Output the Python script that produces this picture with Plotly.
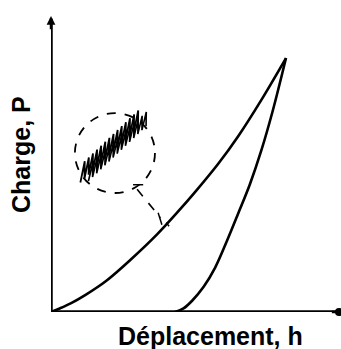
import numpy as np
import plotly.graph_objects as go

# Load–displacement curve of an indentation test (normalised units)
h_load = [0.0, 0.03, 0.07, 0.12, 0.19, 0.28, 0.37, 0.44, 0.50, 0.58, 0.65, 0.73, 0.816]
p_load = [0.0, 0.012, 0.030, 0.058, 0.104, 0.180, 0.264, 0.338, 0.405, 0.500, 0.594, 0.716, 0.858]

h_unload = [0.431, 0.46, 0.49, 0.53, 0.57, 0.61, 0.65, 0.69, 0.73, 0.77, 0.816]
p_unload = [0.0, 0.012, 0.038, 0.085, 0.150, 0.238, 0.333, 0.430, 0.545, 0.680, 0.858]

x_title = "Déplacement, h"
y_title = "Charge, P"

W, H = 341, 349
ML, MR, MT, MB = 51, 2, 16, 37

fig = go.Figure()

line_style = dict(color="black", width=2.6, shape="spline", smoothing=1.0)
fig.add_trace(go.Scatter(x=h_load, y=p_load, mode="lines", line=line_style,
                         hoverinfo="skip", showlegend=False))
fig.add_trace(go.Scatter(x=h_unload, y=p_unload, mode="lines", line=line_style,
                         hoverinfo="skip", showlegend=False))

# Serrations shown in the magnified detail: two rows of short strokes along a diagonal
cx0, cy0, cx1, cy1 = 0.12, 0.47, 0.32, 0.655
n_teeth = 14
t = np.linspace(0, 1, 2 * n_teeth + 1)
even = np.arange(t.size) % 2 == 0
for off, amp, lw in ((-0.014, 0.065, 1.8), (0.014, 0.055, 1.6)):
    zx = cx0 + (cx1 - cx0) * t + off + np.where(even, -0.004, 0.004)
    zy = cy0 + (cy1 - cy0) * t + np.where(even, -amp, amp) * 0.5
    fig.add_trace(go.Scatter(x=zx, y=zy, mode="lines",
                             line=dict(color="black", width=lw),
                             hoverinfo="skip", showlegend=False))

shapes = [
    # axes
    dict(type="line", xref="x", yref="y", x0=0, y0=0, x1=0, y1=0.99,
         line=dict(color="black", width=3.5)),
    dict(type="line", xref="x", yref="y", x0=0, y0=0, x1=0.995, y1=0,
         line=dict(color="black", width=3.5)),
    # magnified-detail circle
    dict(type="circle", xref="x", yref="y", x0=0.083, x1=0.361, y0=0.402, y1=0.672,
         line=dict(color="black", width=1.8, dash="dash")),
    # leader from circle to the loading curve
    dict(type="line", xref="x", yref="y", x0=0.299, y0=0.415, x1=0.38, y1=0.318,
         line=dict(color="black", width=1.6, dash="dash")),
    dict(type="line", xref="x", yref="y", x0=0.372, y0=0.335, x1=0.385, y1=0.295,
         line=dict(color="black", width=1.5)),
    dict(type="line", xref="x", yref="y", x0=0.40, y0=0.302, x1=0.41, y1=0.29,
         line=dict(color="black", width=1.5)),
    dict(type="line", xref="x", yref="y", x0=0.285, y0=0.43, x1=0.32, y1=0.43,
         line=dict(color="black", width=1.5)),
]

annotations = [
    dict(x=0, y=1.0, ax=0, ay=0.95, xref="x", yref="y", axref="x", ayref="y",
         text="", showarrow=True, arrowhead=2, arrowsize=0.7, arrowwidth=2.5,
         arrowcolor="black"),
    dict(x=1.0, y=0, ax=0.97, ay=0, xref="x", yref="y", axref="x", ayref="y",
         text="", showarrow=True, arrowhead=6, arrowsize=0.8, arrowwidth=2.5,
         arrowcolor="black"),
    dict(x=(210 - ML) / (W - ML - MR), y=-(336 - (H - MB)) / (H - MT - MB),
         xref="paper", yref="paper", text="<b>" + x_title + "</b>", showarrow=False,
         font=dict(family="Liberation Sans", size=25, color="black"),
         xanchor="center", yanchor="middle"),
    dict(x=-(ML - 21) / (W - ML - MR), y=(H - MB - 155) / (H - MT - MB),
         xref="paper", yref="paper", text="<b>" + y_title + "</b>", showarrow=False,
         textangle=-90,
         font=dict(family="Liberation Sans", size=25, color="black"),
         xanchor="center", yanchor="middle"),
]

fig.update_layout(
    width=W, height=H,
    margin=dict(l=ML, r=MR, t=MT, b=MB),
    paper_bgcolor="white", plot_bgcolor="white",
    shapes=shapes, annotations=annotations,
    xaxis=dict(range=[0, 1], visible=False, fixedrange=True),
    yaxis=dict(range=[0, 1], visible=False, fixedrange=True),
)

fig.write_html("out.html")
